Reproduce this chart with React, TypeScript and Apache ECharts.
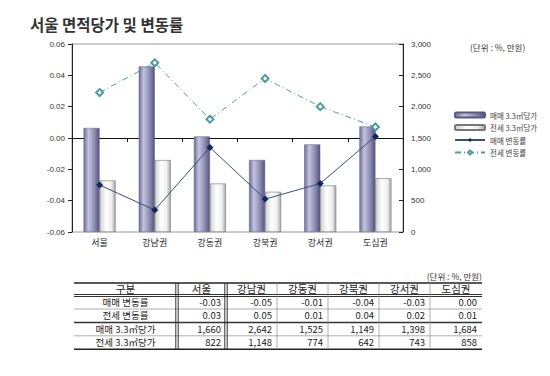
import React, { useEffect, useRef } from "react";
import * as echarts from "echarts";

const categories = ["서울", "강남권", "강동권", "강북권", "강서권", "도심권"];
// bar values (만원 per 3.3㎡)
const salePrice = [1660, 2642, 1525, 1149, 1398, 1684];
const jeonsePrice = [822, 1148, 774, 642, 743, 858];
// line values (%)
const saleRateLine = [-0.030, -0.046, -0.006, -0.039, -0.029, 0.001];
const jeonseRateLine = [0.029, 0.048, 0.012, 0.038, 0.020, 0.007];
// table values (%)
const saleRateTable = [-0.03, -0.05, -0.01, -0.04, -0.03, 0.0];
const jeonseRateTable = [0.03, 0.05, 0.01, 0.04, 0.02, 0.01];
const leftTicks = { min: -0.06, max: 0.06, interval: 0.02 };
const rightTicks = { min: 0, max: 3000, interval: 500 };

const FONT = "'Noto Sans CJK KR', 'Noto Sans', sans-serif";
const AX = "'Liberation Sans', Arial, sans-serif";

const fmtNum = (v: number) => v.toLocaleString("en-US");
const fmtRate = (v: number) => v.toFixed(2);

function buildTable() {
  const colX = [74, 177, 226, 277, 328, 379, 430, 482];
  const rowY = [283, 295.5, 309, 322.4, 335.8, 349.2];
  const els: any[] = [];
  const headers = ["구분", ...categories];
  const rowLabels = ["매매 변동률", "전세 변동률", "매매 3.3㎡당가", "전세 3.3㎡당가"];
  const rows = [
    saleRateTable.map(fmtRate),
    jeonseRateTable.map(fmtRate),
    salePrice.map(fmtNum),
    jeonsePrice.map(fmtNum),
  ];
  els.push({
    type: "text",
    x: colX[7],
    y: 276,
    style: { text: "(단위 : %, 만원)", fill: "#333", fontFamily: FONT, fontSize: 8.5, lineHeight: 9, align: "right", verticalAlign: "middle" },
  });
  headers.forEach((h, i) => {
    els.push({
      type: "text",
      x: (colX[i] + colX[i + 1]) / 2,
      y: (rowY[0] + rowY[1]) / 2 - 0.5,
      style: { text: h, fill: "#222", fontFamily: FONT, fontSize: 10.5, lineHeight: 11, align: "center", verticalAlign: "middle" },
    });
  });
  rows.forEach((r, ri) => {
    const cy = (rowY[ri + 1] + rowY[ri + 2]) / 2 - 0.3;
    els.push({
      type: "text",
      x: (colX[0] + colX[1]) / 2,
      y: cy,
      style: { text: rowLabels[ri], fill: "#222", fontFamily: FONT, fontSize: 9.5, lineHeight: 10, align: "center", verticalAlign: "middle" },
    });
    r.forEach((t, ci) => {
      els.push({
        type: "text",
        x: colX[ci + 2] - 5,
        y: cy,
        style: { text: t, fill: "#222", fontFamily: FONT, fontSize: 9.5, lineHeight: 10, align: "right", verticalAlign: "middle" },
      });
    });
  });
  const hline = (y: number, w: number, c: string) =>
    els.push({ type: "line", shape: { x1: colX[0], y1: y, x2: colX[7], y2: y }, style: { stroke: c, lineWidth: w } });
  const vline = (x: number, w: number, c: string) =>
    els.push({ type: "line", shape: { x1: x, y1: rowY[0], x2: x, y2: rowY[5] }, style: { stroke: c, lineWidth: w } });
  hline(rowY[0], 1.5, "#222");
  hline(rowY[1] - 1, 1, "#333");
  hline(rowY[1] + 1, 1, "#333");
  hline(rowY[2], 0.8, "#999");
  hline(rowY[3], 1.5, "#333");
  hline(rowY[4], 0.8, "#999");
  hline(rowY[5], 1.5, "#222");
  vline(colX[1] - 1.2, 1, "#333");
  vline(colX[1] + 1.2, 1, "#333");
  vline(colX[2] - 1.2, 1, "#333");
  vline(colX[2] + 1.2, 1, "#333");
  for (let i = 3; i < 7; i++) vline(colX[i], 0.8, "#999");
  return els;
}

export default function App() {
  const ref = useRef<HTMLDivElement>(null);
  useEffect(() => {
    if (!ref.current) return;
    const chart = echarts.init(ref.current, undefined, { renderer: "svg" });
    const saleGrad = new echarts.graphic.LinearGradient(0, 0, 1, 0, [
      { offset: 0, color: "#6e6e9a" },
      { offset: 0.3, color: "#c4c4de" },
      { offset: 0.65, color: "#9090b8" },
      { offset: 1, color: "#55557e" },
    ]);
    const jeonseGrad = new echarts.graphic.LinearGradient(0, 0, 1, 0, [
      { offset: 0, color: "#cfcfcf" },
      { offset: 0.4, color: "#ffffff" },
      { offset: 0.75, color: "#f0f0f0" },
      { offset: 1, color: "#a8a8a8" },
    ]);
    chart.setOption({
      animation: false,
      backgroundColor: "#ffffff",
      title: {
        text: "서울 면적당가 및 변동률",
        left: 25,
        top: 11,
        textStyle: { fontFamily: FONT, fontSize: 15.5, fontWeight: "bold", color: "#333" },
      },
      legend: {
        orient: "vertical",
        left: 449,
        top: 106,
        itemWidth: 30,
        itemHeight: 5,
        itemGap: 4.5,
        textStyle: { fontFamily: FONT, fontSize: 7.5, color: "#444", lineHeight: 8 },
        data: [
          { name: "매매 3.3㎡당가" },
          { name: "전세 3.3㎡당가" },
          { name: "매매 변동률" },
          { name: "전세 변동률" },
        ],
      },
      grid: {
        left: 72,
        right: 147,
        top: 44,
        bottom: 144,
        show: true,
        borderColor: "#999",
        borderWidth: 1,
      },
      xAxis: {
        type: "category",
        data: categories,
        axisLine: { lineStyle: { color: "#111", width: 1 } },
        axisTick: { show: true, length: 4, lineStyle: { color: "#111" } },
        axisLabel: { fontFamily: FONT, fontSize: 9, color: "#222", margin: 6 },
      },
      yAxis: [
        {
          type: "value",
          ...leftTicks,
          position: "left",
          axisLine: { show: true, lineStyle: { color: "#222" } },
          axisTick: { show: true, length: 4, lineStyle: { color: "#222" } },
          splitLine: { show: false },
          axisLabel: { fontFamily: AX, fontSize: 8, color: "#333", margin: 7, formatter: (v: number) => fmtRate(v) },
        },
        {
          type: "value",
          ...rightTicks,
          position: "right",
          axisLine: { show: true, lineStyle: { color: "#222" } },
          axisTick: { show: true, inside: true, length: 4, lineStyle: { color: "#222" } },
          splitLine: { show: false },
          axisLabel: { fontFamily: AX, fontSize: 8, color: "#333", margin: 8, formatter: (v: number) => fmtNum(v) },
        },
      ],
      graphic: [
        {
          type: "text",
          x: 470,
          y: 47,
          style: { text: "(단위 : %, 만원)", fill: "#333", fontFamily: FONT, fontSize: 8.5, verticalAlign: "middle" },
        },
        ...buildTable(),
      ],
      series: [
        {
          name: "매매 3.3㎡당가",
          type: "bar",
          yAxisIndex: 1,
          data: salePrice,
          barWidth: 16,
          barGap: "0%",
          itemStyle: { color: saleGrad, borderColor: "#5a5a80", borderWidth: 0.5 },
        },
        {
          name: "전세 3.3㎡당가",
          type: "bar",
          yAxisIndex: 1,
          data: jeonsePrice,
          barWidth: 16,
          barGap: "0%",
          itemStyle: { color: jeonseGrad, borderColor: "#777", borderWidth: 0.6 },
        },
        {
          name: "매매 변동률",
          type: "line",
          yAxisIndex: 0,
          data: saleRateLine,
          symbol: "diamond",
          symbolSize: 7,
          z: 5,
          lineStyle: { color: "#3a4f7a", width: 1 },
          itemStyle: { color: "#0f2a5a" },
        },
        {
          name: "전세 변동률",
          type: "line",
          yAxisIndex: 0,
          data: jeonseRateLine,
          symbol: "emptyDiamond",
          symbolSize: 7,
          z: 5,
          lineStyle: { color: "#4f9c9c", width: 1, type: [6, 3, 1, 3] },
          itemStyle: { color: "#4f9c9c", borderColor: "#4f9c9c", borderWidth: 1 },
        },
      ],
    });
    return () => chart.dispose();
  }, []);
  return <div ref={ref} style={{ position: "fixed", left: 0, top: 0, width: 550, height: 376 }} />;
}
